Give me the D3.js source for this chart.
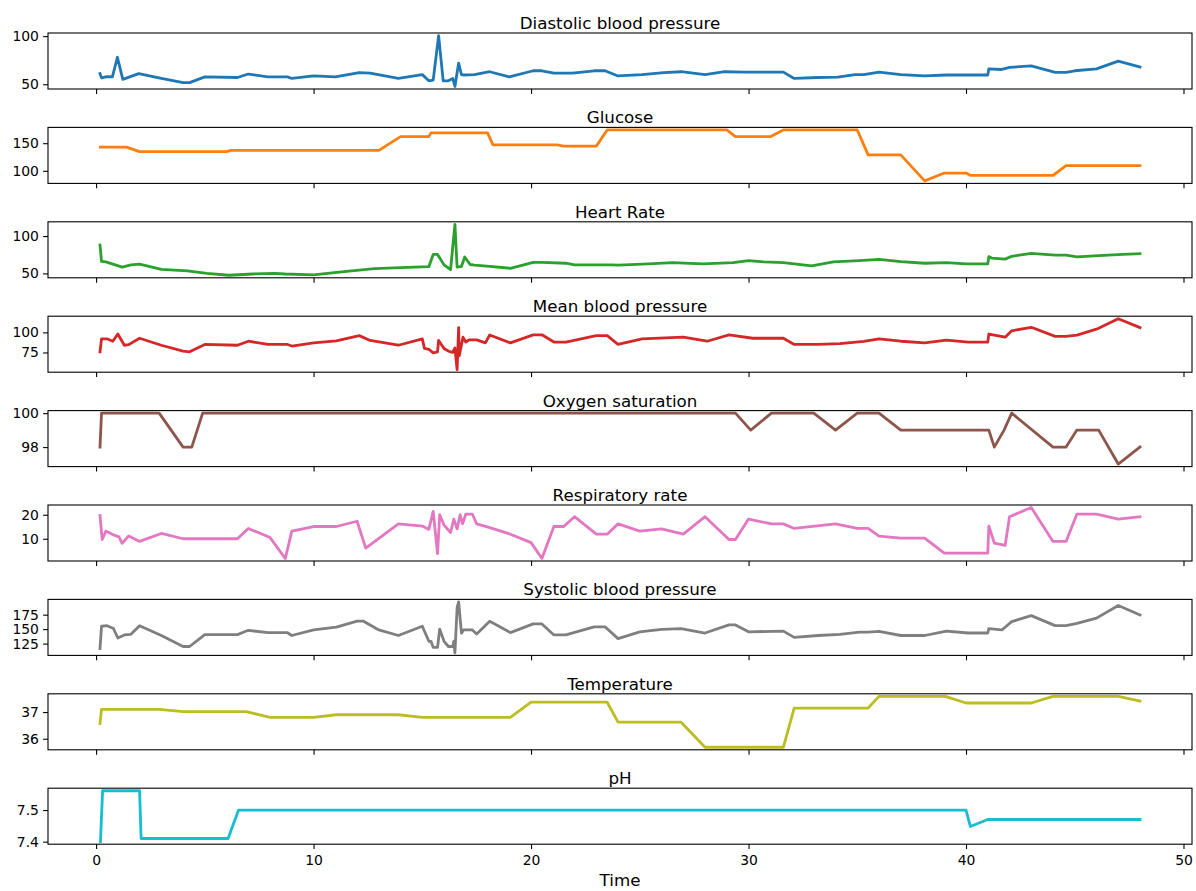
<!DOCTYPE html>
<html>
<head>
<meta charset="utf-8">
<script src="https://cdn.jsdelivr.net/npm/d3@7"></script>
<style>
  body { margin: 0; background: white; }
  text { font-family: "DejaVu Sans", sans-serif; fill: black; }
</style>
</head>
<body>
<div id="chart"></div>
<script>
// series data: [time, value]
var diastolic = [[0.18,61],[0.25,56.6],[0.5,58],[0.75,57.6],[0.98,78],[1.23,55],[1.96,61],[3,56],[4,51.7],[4.3,51.7],[5,57.6],[6.5,57],[7,60.6],[7.9,57.6],[8.8,57.6],[9,56],[10,58.6],[11,57.6],[12.1,62],[12.6,61.5],[13.9,56],[15,60],[15.3,53.6],[15.5,54.2],[15.75,100.6],[15.96,53.6],[16.2,53.6],[16.4,56],[16.5,47.7],[16.67,72],[16.8,60],[16.9,59.6],[17.4,60],[18.1,63],[19,57.6],[20.1,64],[20.5,64],[21.05,61.6],[21.9,61.6],[22.9,64],[23.4,64],[24,58.6],[25.1,60],[26.1,62],[26.9,63],[28,60],[28.9,63],[29.8,62.6],[31.6,62.6],[32.1,56],[33.2,57],[34.1,57.3],[34.9,60],[35.3,60],[36,62.6],[37,60],[38.1,58.6],[39.1,59.6],[40.1,59.6],[41,59.6],[41.05,66],[41.6,65.3],[42,67.5],[43,69],[44.1,62.3],[44.6,62.3],[45,64],[46,66],[47,74],[48,68]];
var glucose = [[0.2,143],[1.4,143],[2,134.7],[6,134.7],[6.2,137],[13,137],[14,161.8],[15.3,161.8],[15.4,168.8],[18,168.8],[18.25,147],[21.2,147],[21.5,144.7],[23,144.7],[23.5,174],[29,174],[29.4,161.8],[31,161.8],[31.6,174],[35,174],[35.5,128.8],[37,128.8],[38.1,81.8],[39,95.9],[40,95.9],[40.2,91.8],[44,91.8],[44.6,109.4],[48,109.4]];
var heartRate = [[0.18,88],[0.25,66],[0.45,65.5],[1.2,58.5],[1.6,61.4],[2,62.3],[3,55.5],[4.2,53.4],[5.1,50],[6.1,47.5],[7.2,49.2],[8.2,50],[8.7,49.2],[10,48],[11.4,52.5],[12.8,56.4],[14,57.6],[15.3,59],[15.5,75.4],[15.7,75.4],[16,61.4],[16.3,55],[16.5,115.7],[16.6,58.5],[16.8,59.3],[16.95,72],[17.2,61.9],[17.4,61],[18.1,59.3],[19.05,56.8],[20.1,64.8],[20.5,64.8],[21.6,63.6],[22,61.4],[23.7,61.4],[24,61],[25.4,62.7],[26.5,64.4],[27.9,62.7],[29.3,64.4],[30,67],[30.7,65.3],[31.6,64.4],[32.9,60],[33.9,65.3],[35.1,67],[36,68.7],[37,65.7],[38.1,63.6],[39.1,64.4],[40,62.7],[41,62.7],[41.05,72.5],[41.2,70.4],[41.8,69.1],[42.1,72.9],[43,76.7],[44.1,74.6],[44.6,74.6],[45.1,72],[46.1,73.7],[47.2,75.4],[48,76.3]];
var meanBP = [[0.18,75.8],[0.25,92],[0.5,92],[0.77,89],[1,98],[1.3,84],[1.5,84.8],[2,92.7],[3,84],[4,76.6],[4.3,75.8],[5,85],[6.5,84],[7,89],[7.9,85],[8.8,85],[9,83],[10,87],[11.05,89.5],[12.1,96],[12.6,90],[13.9,84],[15,92],[15.1,80],[15.3,79],[15.5,74.6],[15.7,75.8],[15.75,90],[16,80],[16.2,76.6],[16.4,75],[16.5,80.6],[16.6,53.6],[16.67,106],[16.7,71],[16.87,94],[17,88],[17.15,90.7],[17.5,90.7],[17.9,87],[18.1,96.8],[19.05,87],[20.1,97],[20.5,97],[21.05,88],[21.6,88],[23,96],[23.5,96],[24,85],[25.1,92],[27,94],[28.1,89],[29.1,96.8],[30.2,92.7],[31.6,92.7],[32.1,85],[33.2,85],[34.2,85.9],[35.3,88.7],[36,92],[37,89],[38.1,87],[39.1,90.3],[40.1,87.9],[41,87.9],[41.05,98],[41.8,94],[42.1,102],[43,106.4],[44.1,95],[44.6,95],[45.1,96.7],[46,104],[47,117],[48,106]];
var oxygen = [[0.18,98],[0.25,100],[2.9,100],[4,98],[4.4,98],[4.9,100],[29.4,100],[30.1,99],[31.05,100],[33,100],[34,99],[35,100],[36,100],[37,99],[41.05,99],[41.3,98],[41.75,99],[42.1,100],[44,98],[44.6,98],[45.1,99],[46.1,99],[47,97],[48,98]];
var respRate = [[0.18,19.7],[0.28,9.7],[0.45,13.2],[0.8,11.6],[1.05,10.8],[1.2,8.1],[1.5,11.2],[2,8.9],[3,12.2],[4,10],[6.5,10],[7,14.3],[8,10.5],[8.7,1.8],[9,13.2],[10,15.1],[11.05,15.1],[12,17.3],[12.4,6.1],[13.9,16.2],[15,15.3],[15.3,13.9],[15.5,21.4],[15.7,3.8],[15.8,20],[16,15.7],[16.3,12.6],[16.45,18.2],[16.6,14.1],[16.74,20],[16.85,16.2],[17,20.3],[17.3,20.3],[17.5,16.2],[18.1,14.6],[19.05,11.9],[20,8.4],[20.5,1.8],[21.05,15.1],[21.5,15.1],[22,19.2],[23,11.9],[23.5,11.9],[24,16.2],[25,13.2],[26,14.1],[27,11.9],[28,19.2],[29.1,9.7],[29.4,9.7],[30,18.2],[31.05,16.2],[31.6,16.2],[32.1,14.3],[34,16.2],[35,14.3],[35.5,14.3],[36,11.1],[37,10.3],[38.1,10.3],[39,4],[41,4],[41.05,15.3],[41.3,8.2],[41.8,7.2],[42,19.2],[43,23],[44,8.9],[44.6,8.9],[45.1,20.3],[46,20.3],[47,18.2],[48,19.2]];
var systolic = [[0.18,116.4],[0.25,155],[0.5,156],[0.8,151],[1,134.7],[1.3,140],[1.6,141],[2,156],[3,139],[4,120],[4.3,120],[5,140.6],[6.5,140.6],[7,148],[7.9,143.8],[8.8,143.8],[9,139],[10,148.6],[11.05,153.5],[12,163.7],[12.3,163.7],[13,148.6],[13.9,139],[15,155],[15.3,129],[15.4,129],[15.5,118.5],[15.7,118.5],[15.8,150],[16,129],[16.2,120],[16.4,120],[16.45,129],[16.5,109],[16.6,187],[16.67,197],[16.8,143],[16.9,148.6],[17.3,148.6],[17.5,141.6],[18.1,163.7],[19.05,144],[20.1,159],[20.5,159],[21.05,140],[21.6,140],[22.9,154],[23.4,154],[24,133.6],[25,145.4],[26,149.5],[26.9,150.8],[28,143.3],[29.1,157.3],[29.4,157.3],[30,145.4],[31.6,146.5],[32.1,135.7],[33.2,139],[34.2,141],[35.1,145],[35.5,145],[36,146],[37,139],[38.1,139],[39.1,146.5],[40.1,143.3],[41,143.3],[41.05,150.8],[41.65,148.6],[42.1,163],[43,173.4],[44.1,156],[44.6,156],[45.1,160],[46,169],[47,191],[48,174.5]];
var temperature = [[0.18,36.57],[0.25,37.1],[2.9,37.1],[4,37.02],[6.9,37.02],[8,36.8],[10,36.8],[11.05,36.9],[13.9,36.9],[15,36.8],[19.05,36.8],[20,37.37],[23.5,37.37],[24,36.62],[26.9,36.62],[28,35.68],[31.6,35.68],[32.1,37.15],[35.5,37.15],[36,37.59],[39.05,37.59],[40,37.34],[43,37.34],[44,37.59],[47,37.59],[48,37.41]];
var ph = [[0.2,7.4],[0.3,7.561],[2,7.561],[2.07,7.41],[6.07,7.41],[6.55,7.5],[40,7.5],[40.2,7.448],[41,7.47],[48,7.47]];

var titles = ["Diastolic blood pressure","Glucose","Heart Rate","Mean blood pressure","Oxygen saturation","Respiratory rate","Systolic blood pressure","Temperature","pH"];
var series = [diastolic, glucose, heartRate, meanBP, oxygen, respRate, systolic, temperature, ph];
var colors = ["#1f77b4","#ff7f0e","#2ca02c","#d62728","#8c564b","#e377c2","#7f7f7f","#bcbd22","#17becf"];
var yTicks = [[50,100],[100,150],[50,100],[75,100],[98,100],[10,20],[125,150,175],[36,37],[7.4,7.5]];
var xTicks = [0,10,20,30,40,50];

var W = 1196, H = 891;
var left = 48, right = 1192;
var top0 = 33, step = 94.4, ph_ = 56;

var svg = d3.select("#chart")
  .append("svg")
    .attr("width", W)
    .attr("height", H);

// shared x scale with matplotlib style 5% margins
var allT = [];
series.forEach(function(s) { s.forEach(function(p) { allT.push(p[0]); }); });
var tExt = d3.extent(allT);
var tPad = (tExt[1] - tExt[0]) * 0.05;
var x = d3.scaleLinear()
  .domain([tExt[0] - tPad, tExt[1] + tPad])
  .range([left, right]);

series.forEach(function(data, i) {
  var top = top0 + i * step;
  var g = svg.append("g");

  var ext = d3.extent(data, function(d) { return d[1]; });
  var pad = (ext[1] - ext[0]) * 0.05;
  var y = d3.scaleLinear()
    .domain([ext[0] - pad, ext[1] + pad])
    .range([top + ph_, top]);

  var line = d3.line()
    .x(function(d) { return x(d[0]); })
    .y(function(d) { return y(d[1]); });

  g.append("path")
    .datum(data)
    .attr("d", line)
    .attr("fill", "none")
    .attr("stroke", colors[i])
    .attr("stroke-width", 2.8)
    .attr("stroke-linejoin", "round")
    .attr("stroke-linecap", "square");

  // y axis
  var ya = g.append("g")
    .attr("transform", "translate(" + left + ",0)")
    .call(d3.axisLeft(y).tickValues(yTicks[i]).tickSize(4.9).tickPadding(4.2).tickFormat(function(d) { return d; }));
  ya.select(".domain").remove();

  // x axis, labels only on the bottom panel
  var last = i === series.length - 1;
  var xa = g.append("g")
    .attr("transform", "translate(0," + (top + ph_) + ")")
    .call(d3.axisBottom(x).tickValues(xTicks).tickSize(4.9).tickPadding(6.5)
      .tickFormat(last ? function(d) { return d; } : function() { return ""; }));
  xa.select(".domain").remove();

  svg.selectAll(".tick line").attr("stroke", "black").attr("stroke-width", 1.1);
  svg.selectAll(".tick text").attr("font-size", "13.9px").attr("font-family", "DejaVu Sans");

  // frame
  g.append("rect")
    .attr("x", left)
    .attr("y", top)
    .attr("width", right - left)
    .attr("height", ph_)
    .attr("fill", "none")
    .attr("stroke", "black")
    .attr("stroke-width", 1.1);

  g.append("text")
    .attr("x", (left + right) / 2)
    .attr("y", top - 4)
    .attr("text-anchor", "middle")
    .attr("font-size", "16.7px")
    .text(titles[i]);
});

svg.append("text")
  .attr("x", (left + right) / 2)
  .attr("y", 886)
  .attr("text-anchor", "middle")
  .attr("font-size", "16.7px")
  .text("Time");
</script>
</body>
</html>
